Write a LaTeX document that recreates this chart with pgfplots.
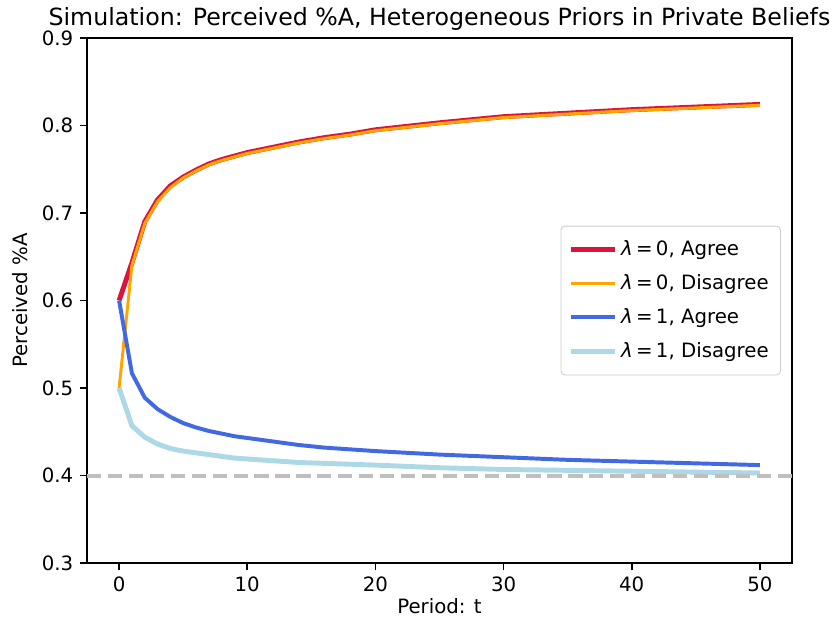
\documentclass[border=0pt]{standalone}
\usepackage{fontspec}
\setmainfont{DejaVu Sans}
\usepackage{pgfplots}
\pgfplotsset{compat=1.18}

\definecolor{crimson}{HTML}{DC143C}
\definecolor{mplorange}{HTML}{FFA500}
\definecolor{royalblue}{HTML}{4169E1}
\definecolor{lightblue}{HTML}{ADD8E6}
\definecolor{refgray}{HTML}{BFBFBF}

% red: lambda=0, agree
\pgfplotstableread{
t p
0 0.600
1 0.643
2 0.690
3 0.715
4 0.731
5 0.741
6 0.749
7 0.756
8 0.761
9 0.765
10 0.769
12 0.775
14 0.781
16 0.786
18 0.790
20 0.795
25 0.803
30 0.810
35 0.814
40 0.818
45 0.821
50 0.824
}\agreezero

% orange: lambda=0, disagree
\pgfplotstableread{
t p
0 0.500
1 0.640
2 0.688
3 0.713
4 0.729
5 0.740
6 0.748
7 0.755
8 0.760
9 0.764
10 0.768
12 0.774
14 0.780
16 0.785
18 0.789
20 0.794
25 0.802
30 0.809
35 0.813
40 0.817
45 0.820
50 0.823
}\disagreezero

% blue: lambda=1, agree
\pgfplotstableread{
t p
0 0.600
1 0.517
2 0.489
3 0.476
4 0.467
5 0.460
6 0.455
7 0.451
8 0.448
9 0.445
10 0.443
12 0.439
14 0.435
16 0.432
18 0.430
20 0.428
25 0.424
30 0.421
35 0.418
40 0.416
45 0.414
50 0.412
}\agreeone

% light blue: lambda=1, disagree
\pgfplotstableread{
t p
0 0.500
1 0.457
2 0.444
3 0.436
4 0.431
5 0.428
6 0.426
7 0.424
8 0.422
9 0.420
10 0.419
12 0.417
14 0.415
16 0.414
18 0.413
20 0.412
25 0.409
30 0.407
35 0.406
40 0.405
45 0.404
50 0.403
}\disagreeone

\begin{document}
\begin{tikzpicture}
\begin{axis}[
    scale only axis,
    width=357.1pt, height=266.1pt,
    xmin=-2.5, xmax=52.5,
    ymin=0.3, ymax=0.9,
    xtick={0,10,20,30,40,50},
    ytick={0.3,0.4,0.5,0.6,0.7,0.8,0.9},
    yticklabel style={/pgf/number format/.cd, fixed, fixed zerofill, precision=1},
    /pgf/number format/assume math mode=true,
    tick label style={font=\fontsize{10}{12}\selectfont},
    label style={font=\fontsize{10}{12}\selectfont, inner sep=0pt},
    tick align=outside,
    tick pos=left,
    major tick length=3.5pt,
    axis line style={line width=0.8pt},
    every tick/.style={black, line width=0.8pt},
    title={Simulation: Perceived \%A, Heterogeneous Priors in Private Beliefs},
    title style={at={(0.5,1)}, anchor=base, yshift=0.2pt, inner sep=0pt, font=\fontsize{12}{14}\selectfont},
    xlabel={Period: t},
    xlabel style={at={([yshift=-17.8pt]rel axis cs:0.5,0)}, anchor=north},
    ylabel={Perceived \%A},
    ylabel style={at={([xshift=-30.4pt]rel axis cs:0,0.5)}, anchor=base},
    legend cell align=left,
    legend image code/.code={\draw[#1] (0pt,0pt) -- (22pt,0pt);},
    legend style={
        at={(1,0.5)}, xshift=-5.6pt, anchor=east,
        draw=black!20, rounded corners=2pt,
        fill=white, fill opacity=0.8, text opacity=1,
        font=\fontsize{10}{12}\selectfont,
        row sep=4pt, inner xsep=4pt, inner ysep=5.5pt,
    },
]
\addplot[crimson, line width=2.5pt] table[x=t, y=p] {\agreezero};
\addlegendentry{\textit{λ}\,=\,0, Agree}
\addplot[mplorange, line width=1.5pt] table[x=t, y=p] {\disagreezero};
\addlegendentry{\textit{λ}\,=\,0, Disagree}
\addplot[royalblue, line width=2pt] table[x=t, y=p] {\agreeone};
\addlegendentry{\textit{λ}\,=\,1, Agree}
\addplot[lightblue, line width=2.5pt] table[x=t, y=p] {\disagreeone};
\addlegendentry{\textit{λ}\,=\,1, Disagree}
\addplot[refgray, line width=2pt, dash pattern=on 7.2pt off 3.4pt, forget plot]
    coordinates {(-2.5,0.4) (52.5,0.4)};
\end{axis}
\path (current axis.south west) ++(-44.1pt,-31.9pt) coordinate (bl);
\path (current axis.north east) ++(20.3pt,19.2pt) coordinate (tr);
\path (bl) rectangle (tr);
\end{tikzpicture}
\end{document}
